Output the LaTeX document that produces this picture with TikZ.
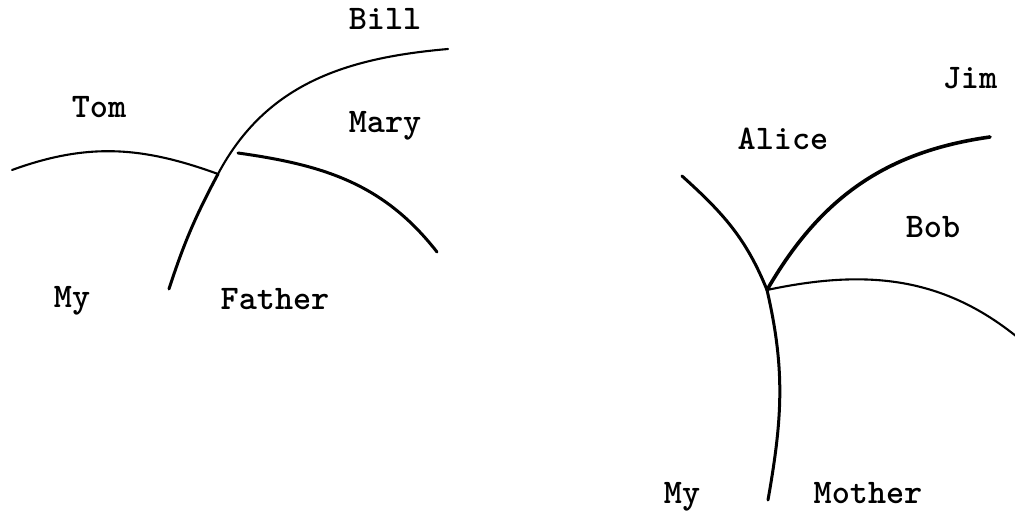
\documentclass[tikz,border=0pt]{standalone}
\usepackage{fontspec}
\usetikzlibrary{positioning,calc}

\tikzset{
  word/.style={font=\ttfamily\bfseries\fontsize{34.5}{40}\selectfont, inner sep=0pt, anchor=base},
  thinline/.style={line width=2.1pt, line cap=round},
  thickline/.style={line width=3pt, line cap=round}
}

\begin{document}
\begin{tikzpicture}[x=1pt,y=1pt]
        \useasboundingbox (0,0) rectangle (1015,511);
        % left figure
        \coordinate (tomS) at (12,341);
        \coordinate (cross) at (218,337);
        \coordinate (billS) at (169,222);
        \coordinate (billE) at (448,462);
        \coordinate (maryS) at (238,358);
        \coordinate (maryE) at (437,259);
        \draw[thinline] (tomS) to[out=20,in=160] (cross);
        \draw[thickline] (billS) to[out=72,in=242] (cross);
        \draw[thinline] (cross) to[out=62,in=185] (billE);
        \draw[thickline] (maryS) to[out=-8,in=128] (maryE);
        \node[word] (bill) at (385,481) {Bill};
        \node[word] (tom) at (99,393) {Tom};
        \node[word] (mary) at (385,378) {Mary};
        \node[word] (my1) at (72,203) {My};
        \node[word] (father) at (275,201) {Father};
        % right figure
        \coordinate (aliceS) at (682,335);
        \coordinate (junc) at (767,221);
        \coordinate (myE) at (768,11);
        \coordinate (jimE) at (990,374);
        \coordinate (bobE) at (1022,170);
        \draw[thickline] (aliceS) to[out=-42,in=112] (junc);
        \draw[thickline] (junc) to[out=-77,in=80] (myE);
        \draw[line width=3.6pt, line cap=round] (junc) to[out=60,in=188] (jimE);
        \draw[thinline] (junc) to[out=12,in=140] (bobE);
        \node[word] (jim) at (970,422) {Jim};
        \node[word] (alice) at (783,361) {Alice};
        \node[word] (bob) at (933,273) {Bob};
        \node[word] (my2) at (682,7) {My};
        \node[word] (mother) at (868,7) {Mother};
    \end{tikzpicture}
\end{document}
